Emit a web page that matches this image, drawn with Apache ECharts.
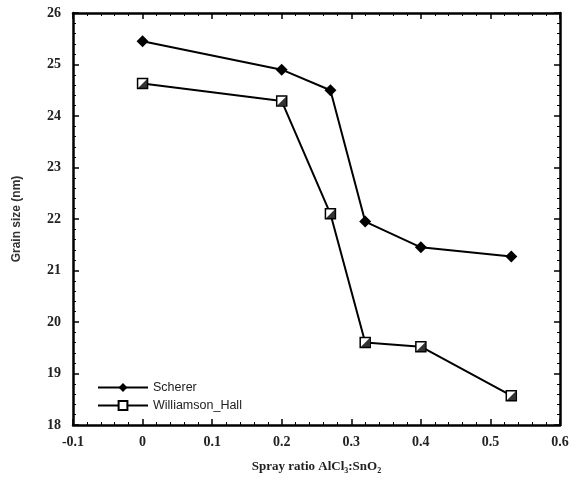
<!DOCTYPE html>
<html>
<head>
<meta charset="utf-8">
<script src="https://cdn.jsdelivr.net/npm/echarts@6/dist/echarts.min.js"></script>
<style>
  html, body { margin: 0; padding: 0; background: #fff; }
  #main { width: 582px; height: 490px; }
</style>
</head>
<body>
<div id="main"></div>
<script>
// spray ratio AlCl3:SnO2
const ratio = [0, 0.2, 0.27, 0.32, 0.4, 0.53];
// grain size (nm)
const scherer = [25.45, 24.9, 24.5, 21.95, 21.45, 21.27];
const williamsonHall = [24.63, 24.29, 22.1, 19.6, 19.52, 18.57];

const xTicks = ['-0.1', '0', '0.1', '0.2', '0.3', '0.4', '0.5', '0.6'];

const toPairs = (ys) => ratio.map((x, i) => [x, ys[i]]);

const chart = echarts.init(document.getElementById('main'));

const tickFont = { fontFamily: 'Liberation Serif', fontWeight: 'bold', fontSize: 14, color: '#222' };
const boxAxis = {
  axisLine: { show: true, onZero: false, lineStyle: { color: '#000', width: 2.5 } },
  axisTick: { show: true, inside: true, length: 6, lineStyle: { color: '#000', width: 1.5 } },
  minorTick: { show: true, splitNumber: 5, length: 3, lineStyle: { color: '#000', width: 1 } },
  splitLine: { show: false }
};

const option = {
  animation: false,
  grid: { left: 73, right: 22, top: 13, bottom: 65 },
  legend: {
    orient: 'vertical',
    left: 92,
    top: 376,
    itemWidth: 50,
    itemHeight: 11,
    itemGap: 5,
    textStyle: { fontFamily: 'Liberation Sans', fontSize: 12.5, color: '#222' },
    data: ['Scherer', 'Williamson_Hall']
  },
  xAxis: [
    Object.assign({
      type: 'value', position: 'bottom', min: -0.1, max: 0.6, interval: 0.1,
      name: 'Spray ratio AlCl{sub|3}:SnO{sub|2}',
      nameLocation: 'middle', nameGap: 34,
      nameTextStyle: {
        fontFamily: 'Liberation Serif', fontWeight: 'bold', fontSize: 13, color: '#222',
        rich: { sub: { fontSize: 8, verticalAlign: 'bottom', padding: [8, 0, 0, 0], fontFamily: 'Liberation Serif', color: '#222' } }
      },
      axisLabel: Object.assign({ margin: 10, formatter: (v) => xTicks[Math.round((v + 0.1) * 10)] }, tickFont)
    }, boxAxis),
    Object.assign({
      type: 'value', position: 'top', min: -0.1, max: 0.6, interval: 0.1,
      axisLabel: { show: false }
    }, boxAxis)
  ],
  yAxis: [
    Object.assign({
      type: 'value', position: 'left', min: 18, max: 26, interval: 1,
      name: 'Grain size (nm)',
      nameLocation: 'middle', nameGap: 50,
      nameTextStyle: { fontFamily: 'Liberation Sans', fontWeight: 'bold', fontSize: 12, color: '#333' },
      axisLabel: Object.assign({ margin: 12 }, tickFont)
    }, boxAxis),
    Object.assign({
      type: 'value', position: 'right', min: 18, max: 26, interval: 1,
      axisLabel: { show: false }
    }, boxAxis)
  ],
  series: [
    {
      name: 'Scherer',
      type: 'line',
      data: toPairs(scherer),
      symbol: 'diamond',
      symbolSize: 12,
      itemStyle: { color: '#000' },
      lineStyle: { color: '#000', width: 2 },
      z: 3
    },
    {
      name: 'Williamson_Hall',
      type: 'line',
      data: toPairs(williamsonHall),
      symbol: 'rect',
      symbolSize: 10,
      itemStyle: { color: '#fff', borderColor: '#000', borderWidth: 1.5 },
      lineStyle: { color: '#000', width: 2 },
      z: 3
    },
    {
      // lower-right half fill of the square markers
      name: 'wh-fill',
      type: 'scatter',
      data: toPairs(williamsonHall),
      symbol: 'path://M10,0 L10,10 L0,10 Z',
      symbolSize: 9,
      itemStyle: { color: '#000' },
      silent: true,
      z: 4
    }
  ]
};

chart.setOption(option);
</script>
</body>
</html>
